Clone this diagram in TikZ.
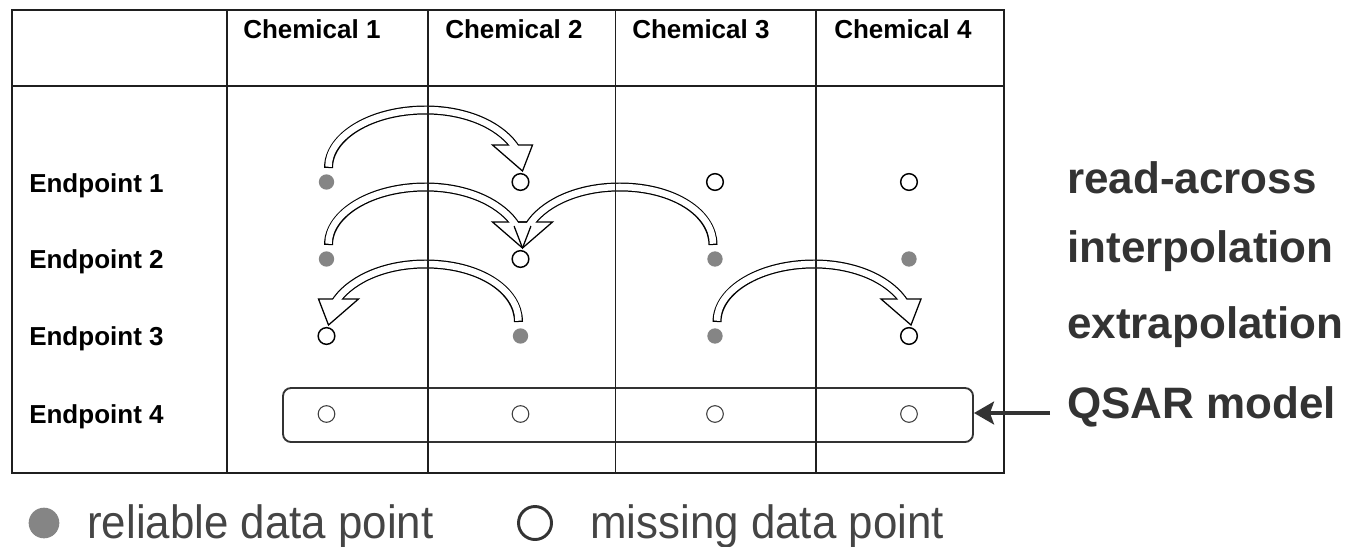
\documentclass[tikz,border=0pt]{standalone}
\usepackage{fontspec}
\setmainfont{Liberation Sans}
\usetikzlibrary{calc,arrows.meta}
\definecolor{dotgray}{HTML}{858585}
\definecolor{txtdark}{HTML}{333333}
\definecolor{legc}{HTML}{454545}
\definecolor{gridc}{HTML}{1F1F1F}

% points of one hollow curved arrow: #1 id, #2 source node, #3 target node, #4 direction (+1 right, -1 left)
\newcommand{\arcpts}[4]{%
  \coordinate (#1tail) at ($(#2)+({2*#4},-14)$);
  \coordinate (#1apex) at ($(#2)!0.5!(#3)+(2,-72)$);
  \coordinate (#1tip)  at ($(#3)+(2,-11)$);
  \coordinate (#1base) at ($(#1tip)+({-9*#4},-26)$);
  \coordinate (#1wa)   at ($(#1tip)+({-30*#4},-26)$);
  \coordinate (#1wb)   at ($(#1tip)+({10*#4},-26)$);
  \coordinate (#1ext)  at ($(#1base)+({2*#4},3)$);
}
\newcommand{\shaftpath}[2]{(#1tail) .. controls +(0,-32) and +({-54*#2},0) .. (#1apex) .. controls +({39*#2},0) and +({-16*#2},-21) .. (#1base) -- (#1ext)}

\begin{document}
\begin{tikzpicture}[x=0.75pt,y=-0.75pt,
  hdr/.style={anchor=base west, inner sep=0, font=\fontsize{19.5pt}{22pt}\selectfont\bfseries},
  lbl/.style={anchor=base west, inner sep=0, text=txtdark, font=\fontsize{33pt}{38pt}\selectfont\bfseries},
  legtxt/.style={anchor=base west, inner sep=0, text=legc, font=\fontsize{35pt}{40pt}\selectfont},
  full/.style={circle, fill=dotgray, minimum size=11.5pt, inner sep=0},
  miss/.style={circle, draw=black, line width=1.1pt, fill=white, minimum size=12.5pt, inner sep=0},
  missthin/.style={circle, draw=black!75, line width=0.8pt, fill=white, minimum size=12.5pt, inner sep=0},
  gridline/.style={draw=gridc, line width=1.2pt},
  shaftout/.style={draw=black, line width=6.75pt},
  shaftin/.style={draw=white, line width=4.9pt, shorten <=0.95pt},
  headfill/.style={fill=white},
  headline/.style={draw=black, line width=0.95pt, line join=miter},
  qarrow/.style={draw=txtdark, line width=3pt, -{Stealth[length=15pt,width=17pt,inset=3pt]}},
  qboxstyle/.style={draw=txtdark, line width=1.4pt, rounded corners=6pt, minimum width=517.5pt, minimum height=40.5pt, inner sep=0}
]
\useasboundingbox (0,0) rectangle (1348,546);

% headers
\node[hdr] (h1) at (243,38) {Chemical 1};
\node[hdr] (h2) at (445,38) {Chemical 2};
\node[hdr] (h3) at (632,38) {Chemical 3};
\node[hdr] (h4) at (834,38) {Chemical 4};
\node[hdr] (e1) at (29,192) {Endpoint 1};
\node[hdr] (e2) at (29,268) {Endpoint 2};
\node[hdr] (e3) at (29,345) {Endpoint 3};
\node[hdr] (e4) at (29,423) {Endpoint 4};

% QSAR box
\node[qboxstyle] (qbox) at (628,415) {};

% data points
\node[full] (p11) at (326.5,182) {};
\node[miss] (p12) at (520.5,182) {};
\node[miss] (p13) at (715,182) {};
\node[miss] (p14) at (909,182) {};
\node[full] (p21) at (326.5,259) {};
\node[miss] (p22) at (520.5,259) {};
\node[full] (p23) at (715,259) {};
\node[full] (p24) at (909,259) {};
\node[miss] (p31) at (326.5,336) {};
\node[full] (p32) at (520.5,336) {};
\node[full] (p33) at (715,336) {};
\node[miss] (p34) at (909,336) {};
\node[missthin] (p41) at (326.5,414) {};
\node[missthin] (p42) at (520.5,414) {};
\node[missthin] (p43) at (715,414) {};
\node[missthin] (p44) at (909,414) {};

% hollow curved arrows
\arcpts{a}{p11}{p12}{1}
\arcpts{b}{p21}{p22}{1}
\arcpts{c}{p23}{p22}{-1}
\arcpts{d}{p32}{p31}{-1}
\arcpts{e}{p33}{p34}{1}
\foreach \i/\d in {a/1,b/1,c/-1,d/-1,e/1}{\draw[shaftout] \shaftpath{\i}{\d};}
\foreach \i in {a,b,c,d,e}{\fill[headfill] (\i wa) -- (\i wb) -- (\i tip) -- cycle;}
\foreach \i in {a,b,c,d,e}{\draw[headline] (\i wa) -- (\i wb) -- (\i tip) -- cycle;}
\foreach \i/\d in {a/1,b/1,c/-1,d/-1,e/1}{\draw[shaftin] \shaftpath{\i}{\d};}

% table grid
\draw[gridline] (12,10) rectangle (1004,473);
\draw[gridline] (12,86) -- (1004,86);
\foreach \x in {227,428,615.5,816}{\draw[gridline] (\x,10) -- (\x,473);}

% right labels
\node[lbl] (r1) at (1067,193) {read-across};
\node[lbl] (r2) at (1067,262) {interpolation};
\node[lbl] (r3) at (1067,338) {extrapolation};
\node[lbl] (qsar) at (1067,418) {QSAR model};
\coordinate (qa) at ($(qsar.base west)+(-17,-5)$);
\draw[qarrow] (qa) -- (qa -| qbox.east);

% legend
\node[circle, fill=dotgray, minimum size=23pt, inner sep=0] (lgfull) at (44,523) {};
\node[legtxt] (lgt1) at (87,538) {\scalebox{0.94}[1]{reliable data point}};
\node[circle, draw=txtdark, line width=2.2pt, minimum size=24.75pt, inner sep=0] (lgmiss) at (535,523) {};
\node[legtxt] (lgt2) at (590,538) {\scalebox{0.94}[1]{missing data point}};
\end{tikzpicture}
\end{document}
